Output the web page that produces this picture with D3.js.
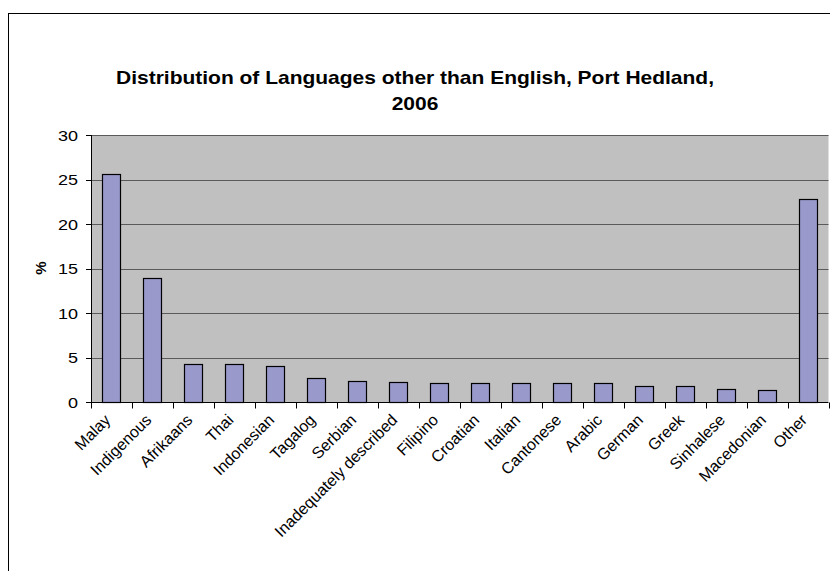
<!DOCTYPE html>
<html>
<head>
<meta charset="utf-8">
<script src="https://cdn.jsdelivr.net/npm/d3@7"></script>
<style>
  body { margin: 0; background: #fff; }
  svg text { font-family: "Liberation Sans", Arial, sans-serif; fill: #000; }
</style>
</head>
<body>
<svg id="chart" width="830" height="571"></svg>
<script>
const languages = ['Malay', 'Indigenous', 'Afrikaans', 'Thai', 'Indonesian', 'Tagalog', 'Serbian',
  'Inadequately described', 'Filipino', 'Croatian', 'Italian', 'Cantonese', 'Arabic', 'German',
  'Greek', 'Sinhalese', 'Macedonian', 'Other'];
const percents = [25.6, 13.9, 4.3, 4.3, 4.1, 2.7, 2.4, 2.3, 2.1, 2.1, 2.1, 2.1, 2.1, 1.8, 1.8, 1.5, 1.4, 22.8];
const yTicks = [0, 5, 10, 15, 20, 25, 30];
const titleLines = ['Distribution of Languages other than English, Port Hedland,', '2006'];

const svg = d3.select('#chart');
const plot = { left: 91, right: 828.5, top: 135, bottom: 402 };
const stretch = 1.2; // the source picture is a bit wider than tall

// outer chart frame (runs off the right/bottom edge)
svg.append('rect')
   .attr('x', 8.5).attr('y', 13.5)
   .attr('width', 840).attr('height', 580)
   .attr('fill', '#fff').attr('stroke', '#000').attr('stroke-width', 1);

svg.append('g')
   .attr('transform', `translate(415,0) scale(${stretch},1)`)
   .append('text')
   .attr('text-anchor', 'middle')
   .style('font-size', '17.5px').style('font-weight', 'bold')
   .selectAll('tspan').data(titleLines).enter().append('tspan')
   .attr('x', 0).attr('y', (d, i) => 84 + i * 26)
   .text(d => d);

const x = d3.scaleBand().domain(languages).range([plot.left, plot.right]).padding(0);
const y = d3.scaleLinear().domain([0, 30]).range([plot.bottom, plot.top]);

svg.append('rect')
   .attr('x', plot.left).attr('y', plot.top)
   .attr('width', plot.right - plot.left).attr('height', plot.bottom - plot.top)
   .attr('fill', '#c0c0c0');

// gridlines
svg.append('g').selectAll('line').data(yTicks.slice(1)).enter().append('line')
   .attr('x1', plot.left).attr('x2', plot.right)
   .attr('y1', d => Math.round(y(d)) + 0.5).attr('y2', d => Math.round(y(d)) + 0.5)
   .attr('stroke', '#5a5a5a');

const barW = x.bandwidth() * 0.44;
svg.append('g').selectAll('rect').data(languages).enter().append('rect')
   .attr('x', d => Math.round(x(d) + (x.bandwidth() - barW) / 2) + 0.5)
   .attr('y', (d, i) => Math.round(y(percents[i])) + 0.5)
   .attr('width', Math.round(barW))
   .attr('height', (d, i) => Math.round(y(0)) - Math.round(y(percents[i])))
   .attr('fill', '#9999cc').attr('stroke', '#000').attr('stroke-width', 1.2);

// y axis: line, ticks, labels drawn by hand so the labels can be stretched
const yAxis = svg.append('g');
yAxis.append('line')
   .attr('x1', plot.left + 0.5).attr('x2', plot.left + 0.5)
   .attr('y1', plot.top).attr('y2', plot.bottom + 6)
   .attr('stroke', '#000');
yAxis.selectAll('line.tk').data(yTicks).enter().append('line')
   .attr('class', 'tk')
   .attr('x1', plot.left - 5).attr('x2', plot.left)
   .attr('y1', d => Math.round(y(d)) + 0.5).attr('y2', d => Math.round(y(d)) + 0.5)
   .attr('stroke', '#000');
yAxis.selectAll('text').data(yTicks).enter().append('text')
   .attr('transform', d => `translate(${plot.left - 13},${y(d) + 5.5}) scale(${stretch},1)`)
   .attr('text-anchor', 'end')
   .style('font-size', '15px')
   .text(d => d);

// x axis: ticks at band edges, labels rotated
const xAxis = svg.append('g').attr('transform', `translate(0,${Math.round(plot.bottom) + 0.5})`);
xAxis.append('line').attr('x1', plot.left).attr('x2', plot.right).attr('stroke', '#000');
xAxis.selectAll('line.tk').data(languages.concat([null])).enter().append('line')
   .attr('class', 'tk')
   .attr('x1', (d, i) => Math.round(plot.left + i * x.bandwidth()) + 0.5)
   .attr('x2', (d, i) => Math.round(plot.left + i * x.bandwidth()) + 0.5)
   .attr('y1', 0).attr('y2', 6).attr('stroke', '#000');

svg.append('g').selectAll('text').data(languages).enter().append('text')
   .attr('transform', d => `translate(${x(d) + x.bandwidth() / 2},421) rotate(-45)`)
   .attr('text-anchor', 'end')
   .style('font-size', '16px')
   .text(d => d);

svg.append('text')
   .attr('transform', 'translate(46,268) rotate(-90)')
   .attr('text-anchor', 'middle')
   .style('font-size', '15px').style('font-weight', 'bold')
   .text('%');
</script>
</body>
</html>
